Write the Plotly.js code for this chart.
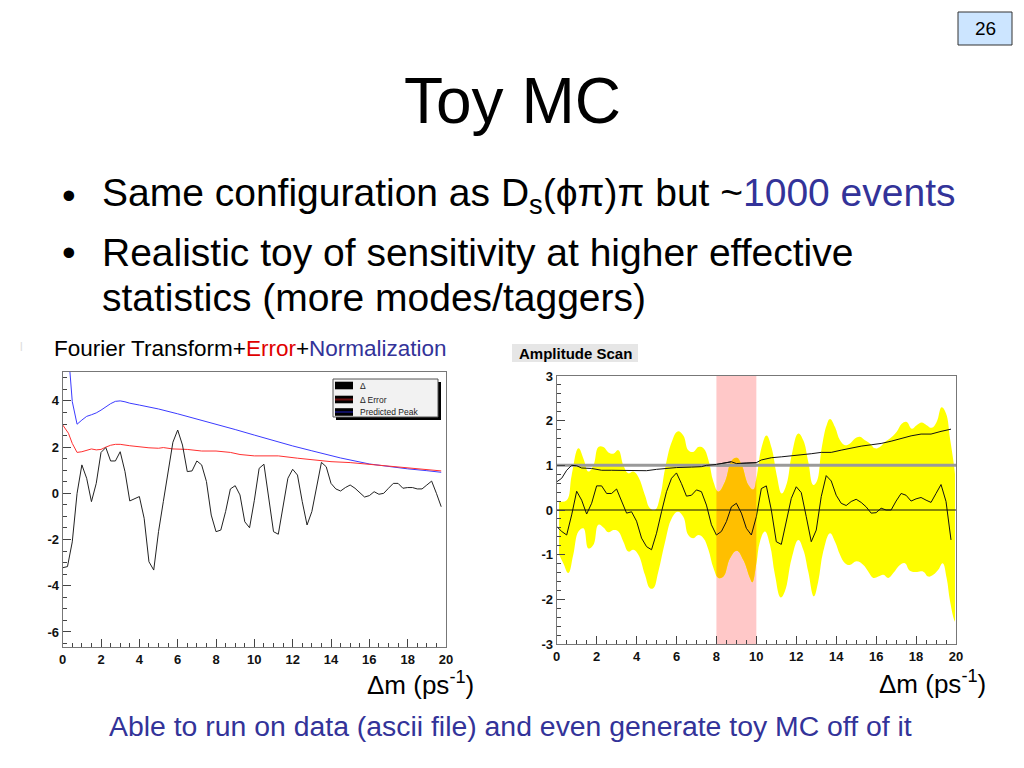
<!DOCTYPE html>
<html><head><meta charset="utf-8">
<script src="https://cdn.plot.ly/plotly-3.0.1.min.js"></script>
<style>html,body{margin:0;padding:0;background:#fff;} #chart{width:1024px;height:768px;}</style>
</head><body><div id="chart"></div>
<script>
// ---------- data ----------
const dmGrid = [0,0.25,0.5,0.75,1,1.25,1.5,1.75,2,2.25,2.5,2.75,3,3.25,3.5,3.75,4,4.25,4.5,4.75,5,5.25,5.5,5.75,6,6.25,6.5,6.75,7,7.25,7.5,7.75,8,8.25,8.5,8.75,9,9.25,9.5,9.75,10,10.25,10.5,10.75,11,11.25,11.5,11.75,12,12.25,12.5,12.75,13,13.25,13.5,13.75,14,14.25,14.5,14.75,15,15.25,15.5,15.75,16,16.25,16.5,16.75,17,17.25,17.5,17.75,18,18.25,18.5,18.75,19,19.25,19.5,19.75];
const deltaValues = [-3.22,-3.17,-2.1,0.0, 1.23,0.65,-0.36,0.43, 1.77,1.98,1.40,1.40, 1.80,0.94,-0.33,-0.25, -0.14,-1.08,-2.96,-3.32, -1.66,-0.36,1.0,2.21, 2.74,2.09,0.94,0.97, 1.40,1.23,0.51,-0.94, -1.66,-1.59,-0.79,0.19, 0.33,-0.07,-1.23,-1.49, -0.3,1.08,1.26,-0.22, -1.66,-1.77,-0.5,0.65, 1.04,0.79,-0.36,-1.37, -0.79,0.22,1.34,1.15, 0.43,0.19,0.10,0.25, 0.36,0.22,0.05,-0.16, -0.1,0.07,-0.04,0.0, 0.22,0.43,0.43,0.22, 0.25,0.25,0.19,0.19, 0.36,0.53,0.0,-0.58];
const errorX = [0,0.3,0.5,0.75,1.0,1.25,1.5,1.75,2.0,2.25,2.5,2.75,3.0,3.5,4.0,4.5,5.0,5.25,5.75,6.5,7.25,8.0,8.75,9.25,10.0,11.25,12.25,13.25,14.0,15.0,15.75,16.75,17.5,18.5,19.25,19.75];
const errorValues = [2.96,2.6,2.16,1.77,1.8,1.85,1.92,1.88,1.9,2.0,2.08,2.12,2.12,2.06,2.0,1.97,1.95,1.98,1.92,1.9,1.83,1.83,1.77,1.68,1.62,1.62,1.52,1.42,1.37,1.33,1.27,1.2,1.13,1.08,1.01,0.97];
const peakX = [0,0.25,0.5,0.75,1.0,1.25,1.5,1.75,2.0,2.25,2.5,2.75,3.0,3.25,3.5,4.0,5.0,6.0,7.0,8.0,9.0,10.0,11.0,12.0,13.0,14.5,16.0,17.0,18.0,19.0,19.75];
const peakValues = [8.7,6.6,3.97,2.99,3.17,3.33,3.4,3.48,3.6,3.75,3.88,3.98,4.0,3.96,3.9,3.82,3.65,3.44,3.22,3.0,2.76,2.52,2.28,2.05,1.84,1.53,1.27,1.15,1.06,0.98,0.91];

const ampValues = [-0.37,-0.48,-0.56,-0.11, 0.42,0.22,-0.09,0.15, 0.54,0.54,0.37,0.37, 0.47,0.19,-0.07,-0.04, -0.25,-0.63,-0.82,-0.89, -0.52,-0.04,0.41,0.71, 0.83,0.59,0.31,0.33, 0.45,0.41,0.11,-0.33, -0.56,-0.48,-0.26,0.07, 0.15,-0.07,-0.41,-0.56, -0.15,0.48,0.54,0.0, -0.71,-0.77,-0.26,0.26, 0.52,0.39,-0.15,-0.71, -0.45,0.30,0.77,0.65, 0.33,0.15,0.10,0.19, 0.24,0.17,0.07,-0.07, -0.06,0.04,0.0,0.0, 0.2,0.37,0.33,0.2, 0.25,0.28,0.22,0.17, 0.37,0.57,0.19,-0.67];
const sensX = [0,0.25,0.5,0.75,1.0,1.25,1.75,2.25,2.75,3.5,4.5,5.0,5.5,6.0,6.75,7.25,7.5,8.0,8.75,9.0,9.5,10.0,10.25,10.75,11.25,11.75,12.25,12.75,13.25,13.75,14.25,14.75,15.25,15.75,16.25,16.75,17.25,17.75,18.25,18.75,19.25,19.75];
const sensValues = [0.63,0.71,0.89,1.0,0.99,0.94,0.93,0.89,0.89,0.88,0.88,0.91,0.93,0.95,0.96,0.97,1.0,1.02,1.08,1.04,1.05,1.06,1.12,1.17,1.19,1.21,1.24,1.26,1.29,1.29,1.34,1.39,1.43,1.46,1.49,1.54,1.6,1.66,1.70,1.70,1.76,1.81];
const bandUpperX = [0.12,0.5,0.75,1.09,1.34,1.59,1.84,2.09,2.34,2.59,2.84,3.09,3.34,3.59,3.84,4.09,4.42,4.67,4.92,5.18,5.43,5.76,6.06,6.34,6.59,6.84,7.1,7.35,7.6,7.85,8.1,8.43,8.76,9.02,9.27,9.6,9.85,10.0,10.26,10.51,10.77,11.02,11.27,11.52,11.77,12.1,12.35,12.6,12.85,13.02,13.27,13.52,13.69,13.94,14.19,14.44,14.69,14.94,15.19,15.44,15.69,15.94,16.19,16.44,16.69,17.03,17.28,17.53,17.78,18.03,18.28,18.53,18.78,19.03,19.28,19.5,19.7,19.9,19.95];
const bandUpperY = [0.19,0.22,0.78,1.38,1.15,0.86,1.0,1.41,1.41,1.29,1.26,1.34,1.0,0.82,0.86,0.74,0.33,0.04,0.0,0.3,0.93,1.52,1.76,1.67,1.34,1.3,1.41,1.38,1.12,0.63,0.41,0.63,1.1,1.17,1.0,0.56,0.46,0.7,1.4,1.67,1.38,0.78,0.37,0.59,1.23,1.71,1.56,1.08,0.56,0.63,1.38,1.9,2.04,1.86,1.56,1.45,1.49,1.6,1.64,1.56,1.49,1.38,1.41,1.52,1.6,1.75,1.93,1.97,1.82,1.9,1.96,1.9,1.84,1.97,2.3,2.16,1.6,1.0,0.8];
const bandLowerX = [0.12,0.33,0.58,0.83,1.09,1.34,1.59,1.84,2.09,2.34,2.59,2.84,3.09,3.34,3.59,3.84,4.09,4.42,4.67,4.84,5.09,5.43,5.76,6.06,6.34,6.59,6.84,7.1,7.35,7.6,7.85,8.1,8.35,8.68,9.02,9.35,9.68,9.8,10.0,10.18,10.43,10.68,10.93,11.22,11.43,11.77,12.1,12.35,12.6,12.88,13.1,13.35,13.69,13.94,14.19,14.44,14.69,15.02,15.36,15.61,15.86,16.11,16.36,16.61,16.86,17.19,17.44,17.69,18.03,18.36,18.61,18.86,19.11,19.33,19.53,19.7,19.9,19.95];
const bandLowerY = [-1.0,-1.19,-1.41,-1.0,-0.48,-0.41,-0.86,-0.78,-0.33,-0.39,-0.5,-0.45,-0.48,-0.71,-0.93,-0.89,-1.0,-1.45,-1.75,-1.75,-1.38,-0.71,-0.19,-0.04,-0.15,-0.56,-0.63,-0.56,-0.63,-0.89,-1.3,-1.52,-1.49,-1.08,-0.91,-1.12,-1.52,-1.62,-1.2,-0.71,-0.48,-0.78,-1.45,-1.96,-1.82,-1.08,-0.67,-0.89,-1.38,-1.93,-1.6,-0.93,-0.52,-0.71,-1.0,-1.19,-1.23,-1.15,-1.23,-1.38,-1.52,-1.49,-1.45,-1.52,-1.41,-1.23,-1.19,-1.36,-1.39,-1.38,-1.49,-1.45,-1.34,-1.19,-1.52,-2.04,-2.45,-2.5];
const signalRegion = [8, 10];
const refAmplitude = [1, 1];
const refZero = [0, 0];
const refX = [0, 20];
const xTicks = [0,2,4,6,8,10,12,14,16,18,20];
const leftYTicks = [-6,-4,-2,0,2,4];
const rightYTicks = [-3,-2,-1,0,1,2,3];
const legendLabels = ['\u0394', '\u0394 Error', 'Predicted Peak'];
const legendColors = ['#000000', '#6b1010', '#101060'];

// ---------- geometry helpers (page pixels -> paper) ----------
const W = 1024, H = 768;
const px = x => x / W;
const py = y => 1 - y / H;
const FONT = 'Liberation Sans, Arial, sans-serif';
const BLUE = '#333399';

const L = {x0: 62.7, x1: 446, y0: 372, y1: 647};
const R = {x0: 556.7, x1: 956, y0: 376, y1: 644};
const rx = v => R.x0 + (R.x1 - R.x0) * v / 20;
const tickText = vals => vals.map(v => String(v)); // plain hyphen minus like the original

function axisCommon(extra) {
  return Object.assign({
    showline: true, linecolor: '#777', linewidth: 1, mirror: true,
    ticks: 'inside', ticklen: 8, tickcolor: '#444', tickwidth: 1,
    showgrid: false, zeroline: false, fixedrange: true, tickmode: 'array',
    tickfont: {family: FONT, size: 13, color: '#111', weight: 'bold'}
  }, extra);
}

const lineL = (x, y, c) => ({x, y, type: 'scatter', mode: 'lines', xaxis: 'x', yaxis: 'y',
  line: {color: c, width: 1}, showlegend: false, hoverinfo: 'skip'});

const traces = [
  lineL(peakX, peakValues, '#3b3bff'),
  lineL(errorX, errorValues, '#ff3030'),
  lineL(dmGrid, deltaValues, '#222222')
];

function rightSet(xa, fillColor) {
  const base = {type: 'scatter', mode: 'lines', xaxis: xa, yaxis: 'y2', showlegend: false, hoverinfo: 'skip'};
  return [
    Object.assign({}, base, {x: bandLowerX, y: bandLowerY, line: {width: 0, shape: 'spline', smoothing: 1.2}}),
    Object.assign({}, base, {x: bandUpperX, y: bandUpperY, fill: 'tonexty', fillcolor: fillColor, line: {width: 0, shape: 'spline', smoothing: 1.2}}),
    Object.assign({}, base, {x: refX, y: refAmplitude, line: {color: '#9a9a9a', width: 3}}),
    Object.assign({}, base, {x: refX, y: refZero, line: {color: '#111', width: 1}}),
    Object.assign({}, base, {x: sensX, y: sensValues, line: {color: '#111', width: 1}}),
    Object.assign({}, base, {x: dmGrid, y: ampValues, line: {color: '#111', width: 1}})
  ];
}
traces.push(...rightSet('x2', '#ffff00'));
traces.push(...rightSet('x3', '#ffbf00'));

const shapes = [
  {type: 'rect', xref: 'x2', yref: 'y2', x0: signalRegion[0], x1: signalRegion[1], y0: -3, y1: 3,
   fillcolor: '#ffc8c8', line: {width: 0}, layer: 'below'},
  {type: 'rect', xref: 'paper', yref: 'paper', x0: px(958), x1: px(1012), y0: py(45), y1: py(12),
   fillcolor: '#cce5ff', line: {color: '#333', width: 1}},
  {type: 'rect', xref: 'paper', yref: 'paper', x0: px(512), x1: px(638), y0: py(362), y1: py(344),
   fillcolor: '#e6e6e6', line: {width: 0}},
  {type: 'rect', xref: 'paper', yref: 'paper', x0: px(336), x1: px(441), y0: py(420), y1: py(382),
   fillcolor: '#000', line: {width: 0}},
  {type: 'rect', xref: 'paper', yref: 'paper', x0: px(333), x1: px(438), y0: py(417), y1: py(379),
   fillcolor: '#f2f2f2', line: {color: '#555', width: 1}}
];

const annotations = [
  {text: 'Toy MC', x: px(512), y: py(101), font: {family: FONT, size: 64, color: '#000'}},
  {text: '26', x: px(985), y: py(29), font: {family: FONT, size: 19, color: '#000'}},
  {text: '\u2022', x: px(69), y: py(195), font: {family: FONT, size: 39, color: '#000'}},
  {text: 'Same configuration as D<sub>s</sub>(\u03d5\u03c0)\u03c0 but ~<span style="color:' + BLUE + '">1000 events</span>',
   x: px(100), y: py(195), xanchor: 'left', font: {family: FONT, size: 39, color: '#000'}},
  {text: '\u2022', x: px(69), y: py(253), font: {family: FONT, size: 39, color: '#000'}},
  {text: 'Realistic toy of sensitivity at higher effective', x: px(100), y: py(253), xanchor: 'left',
   font: {family: FONT, size: 39, color: '#000'}},
  {text: 'statistics (more modes/taggers)', x: px(100), y: py(298), xanchor: 'left',
   font: {family: FONT, size: 39, color: '#000'}},
  {text: 'l', x: px(21), y: py(347), font: {family: FONT, size: 12, color: '#dddddd'}},
  {text: 'Fourier Transform+<span style="color:#e00000">Error</span>+<span style="color:' + BLUE + '">Normalization</span>',
   x: px(52), y: py(348), xanchor: 'left', font: {family: FONT, size: 22.5, color: '#000'}},
  {text: '<b>Amplitude Scan</b>', x: px(517), y: py(353), xanchor: 'left', font: {family: FONT, size: 15, color: '#000'}},
  {text: '\u0394m (ps<sup>-1</sup>)', x: px(476), y: py(683), xanchor: 'right', font: {family: FONT, size: 26, color: '#000'}},
  {text: '\u0394m (ps<sup>-1</sup>)', x: px(988), y: py(682), xanchor: 'right', font: {family: FONT, size: 26, color: '#000'}},
  {text: 'Able to run on data (ascii file) and even generate toy MC off of it', x: px(510), y: py(726),
   font: {family: FONT, size: 28.4, color: BLUE}}
];

const legendRowsY = [385.5, 399.5, 412];
legendLabels.forEach((lab, i) => {
  const yc = legendRowsY[i];
  shapes.push({type: 'rect', xref: 'paper', yref: 'paper', x0: px(335), x1: px(353), y0: py(yc + 3.8), y1: py(yc - 3.8),
    fillcolor: '#000', line: {width: 0}});
  shapes.push({type: 'line', xref: 'paper', yref: 'paper', x0: px(335), x1: px(353), y0: py(yc), y1: py(yc),
    line: {color: legendColors[i], width: 2}});
  annotations.push({text: lab, x: px(358), y: py(yc), xanchor: 'left', font: {family: FONT, size: 8.5, color: '#222'}});
});
annotations.forEach(a => { a.xref = 'paper'; a.yref = 'paper'; a.showarrow = false;
  if (!a.xanchor) a.xanchor = 'center'; a.yanchor = 'middle'; });

const minorX = {dtick: 0.5, ticklen: 4, ticks: 'inside', tickcolor: '#444'};
const layout = {
  width: W, height: H, margin: {l: 0, r: 0, t: 0, b: 0},
  paper_bgcolor: '#ffffff', plot_bgcolor: 'rgba(0,0,0,0)', showlegend: false,
  xaxis: axisCommon({domain: [px(L.x0), px(L.x1)], range: [0, 20], anchor: 'y',
    tickvals: xTicks, ticktext: tickText(xTicks), minor: minorX}),
  yaxis: axisCommon({domain: [py(L.y1), py(L.y0)], range: [-6.65, 5.25], anchor: 'x',
    tickvals: leftYTicks, ticktext: tickText(leftYTicks), minor: {dtick: 0.5, ticklen: 4, ticks: 'inside', tickcolor: '#444'}}),
  xaxis2: axisCommon({domain: [px(R.x0), px(R.x1)], range: [0, 20], anchor: 'y2',
    tickvals: xTicks, ticktext: tickText(xTicks), minor: minorX}),
  yaxis2: axisCommon({domain: [py(R.y1), py(R.y0)], range: [-3, 3], anchor: 'x2',
    tickvals: rightYTicks, ticktext: tickText(rightYTicks), minor: {dtick: 0.2, ticklen: 4, ticks: 'inside', tickcolor: '#444'}}),
  xaxis3: {domain: [px(rx(signalRegion[0])), px(rx(signalRegion[1]))], range: signalRegion, anchor: 'y2',
    visible: false, showgrid: false, zeroline: false, fixedrange: true},
  shapes, annotations
};

Plotly.newPlot('chart', traces, layout, {staticPlot: true, displayModeBar: false});
</script>
</body></html>
